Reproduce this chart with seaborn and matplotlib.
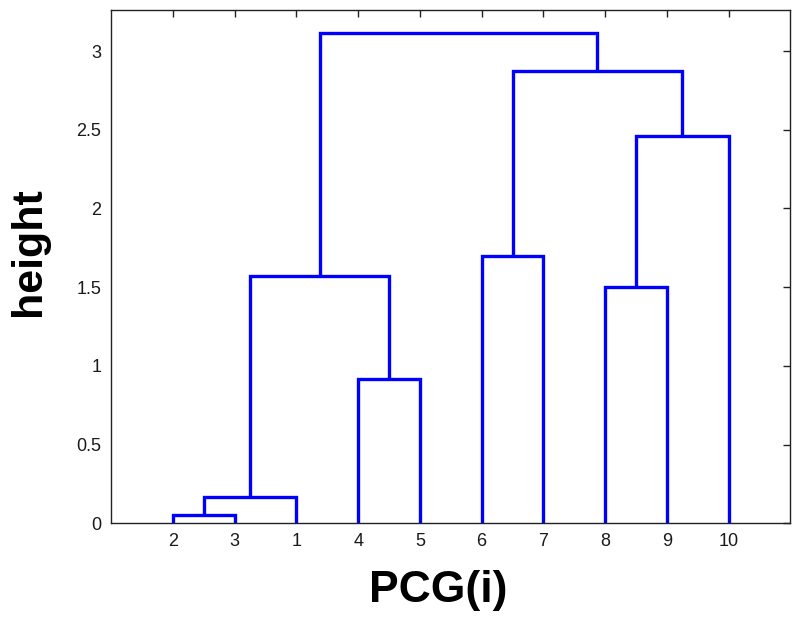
import numpy as np
import pandas as pd
import matplotlib
matplotlib.use("Agg")
import matplotlib.pyplot as plt
import seaborn as sns

# leaves in the order the dendrogram shows them
leaf_labels = ["2", "3", "1", "4", "5", "6", "7", "8", "9", "10"]
# each merge joins two nodes: 0-9 are the leaves above, 10+ are earlier merges
merge_left = [0, 10, 3, 11, 5, 7, 15, 14, 13]
merge_right = [1, 2, 4, 12, 6, 8, 9, 16, 17]
merge_height = [0.055, 0.165, 0.917, 1.570, 1.697, 1.498, 2.462, 2.873, 3.115]
y_ticks = [0, 0.5, 1, 1.5, 2, 2.5, 3]


def build_links():
    node_x = list(range(1, len(leaf_labels) + 1))
    node_y = [0.0] * len(leaf_labels)
    rows = []
    for k, (a, b, h) in enumerate(zip(merge_left, merge_right, merge_height)):
        pts = [(node_x[a], node_y[a]), (node_x[a], h), (node_x[b], h), (node_x[b], node_y[b])]
        for i, (x, y) in enumerate(pts):
            rows.append({"link": k, "step": i, "x": x, "y": y})
        node_x.append((node_x[a] + node_x[b]) / 2)
        node_y.append(h)
    return pd.DataFrame(rows)


sns.set_theme(style="white")
plt.rcParams["font.family"] = ["Liberation Sans", "DejaVu Sans"]

df = build_links()

fig = plt.figure(figsize=(8, 6.17), dpi=100)
ax = fig.add_axes([0.139, 0.152, 0.849, 0.832])

sns.lineplot(
    data=df, x="x", y="y", units="link", estimator=None, sort=False,
    color="#0000ff", lw=2.4, ax=ax, legend=False,
)
for line in ax.lines:
    line.set_solid_joinstyle("miter")
    line.set_solid_capstyle("butt")

ax.set_xlim(0, len(leaf_labels) + 1)
ax.set_ylim(0, max(merge_height) * 1.047)
ax.set_xticks(range(1, len(leaf_labels) + 1))
ax.set_xticklabels(leaf_labels)
ax.set_yticks(y_ticks)
ax.set_yticklabels([f"{t:g}" for t in y_ticks])

ax.tick_params(
    direction="in", length=5, width=1, top=True, right=True,
    labelsize=13, labelcolor="#1a1a1a", color="#222222", pad=7,
)
for spine in ax.spines.values():
    spine.set_color("#222222")
    spine.set_linewidth(1.0)

ax.set_xlabel("PCG(i)", fontsize=32, fontweight="bold", color="black")
ax.set_ylabel("height", fontsize=31, fontweight="bold", color="black")
ax.xaxis.set_label_coords(0.482, -0.092)
ax.yaxis.set_label_coords(-0.092, 0.53)

plt.savefig("out.png", dpi=100)
plt.close()
